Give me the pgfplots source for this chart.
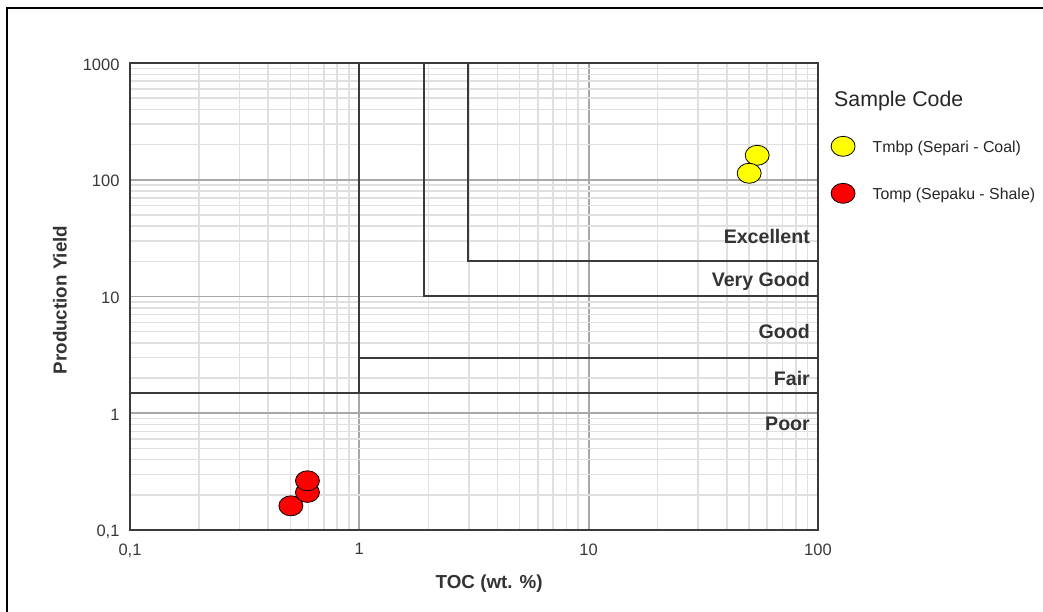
\documentclass[border=0pt]{standalone}
\usepackage{pgfplots}
\pgfplotsset{compat=1.18}
\usepackage{fontspec}
\setmainfont{Liberation Sans}
\definecolor{darkln}{HTML}{3A3A3A}
\definecolor{majgrid}{HTML}{A8A8A8}
\definecolor{mingrid}{HTML}{E0E0E0}
\definecolor{txt}{HTML}{333333}
\definecolor{yel}{HTML}{FFFF00}
\definecolor{rd}{HTML}{FF0000}
\begin{document}
\begin{tikzpicture}[x=1pt,y=1pt]
\useasboundingbox (0,0) rectangle (1043,612);
\fill[white] (0,0) rectangle (1043,612);
\draw[line width=2pt,black] (6.5,0) -- (6.5,604) -- (1043,604);
\begin{axis}[
  at={(130pt,82pt)}, anchor=south west,
  scale only axis, width=688pt, height=467pt,
  xmode=log, ymode=log,
  xmin=0.1, xmax=100, ymin=0.1, ymax=1000,
  xtick={0.1,1,10,100}, xticklabels={{0,1},1,10,100},
  ytick={0.1,1,10,100,1000}, yticklabels={{0,1},1,10,100,1000},
  major tick length=0pt, minor tick length=0pt,
  grid=both,
  major grid style={draw=majgrid, line width=1.8pt},
  minor grid style={draw=mingrid, line width=1.5pt},
  axis line style={draw=darkln, line width=2pt},
  tick label style={font=\fontsize{16.5}{19}\selectfont, text=black!78},
  xticklabel style={yshift=-10pt},
  yticklabel style={xshift=-7pt, yshift=-1.5pt},
  xlabel={TOC (wt. \%)}, ylabel={Production Yield},
  label style={font=\bfseries\fontsize{18.8}{22}\selectfont, text=txt},
  xlabel style={at={(rel axis cs:0.522,-0.1156)}, anchor=center},
  ylabel style={at={(rel axis cs:-0.1017,0.4925)}, anchor=center},
  legend style={at={(rel axis cs:1.019,0.843)}, anchor=north west, draw=none, fill=none,
    inner sep=0pt, outer sep=0pt, row sep=27pt,
    font=\fontsize{15.9}{19}\selectfont, text=black!85,
    nodes={inner sep=0pt, outer sep=0pt},
    /tikz/every odd column/.style={column sep=17.5pt}},
  legend cell align=left,
  legend image code/.code={\draw[#1] plot coordinates {(12pt,1.5pt)};},
  clip=false,
]
% classification boundaries
\addplot[forget plot, draw=darkln, line width=2pt] coordinates {(1,1000) (1,1.5)};
\addplot[forget plot, draw=darkln, line width=2pt] coordinates {(0.1,1.5) (100,1.5)};
\addplot[forget plot, draw=darkln, line width=2pt] coordinates {(1,3) (100,3)};
\addplot[forget plot, draw=darkln, line width=2pt] coordinates {(1.91,1000) (1.91,10) (100,10)};
\addplot[forget plot, draw=darkln, line width=2pt] coordinates {(2.97,1000) (2.97,20) (100,20)};
% data
\addplot[only marks, mark=*, mark size=10pt,
  mark options={xscale=1.2, fill=yel, draw=black, line width=0.8pt}]
  coordinates {(54.3,162) (50.1,113.6)};
\addlegendentry{Tmbp (Separi - Coal)}
\addplot[only marks, mark=*, mark size=10pt,
  mark options={xscale=1.2, fill=rd, draw=black, line width=0.8pt}]
  coordinates {(0.503,0.161) (0.594,0.210) (0.594,0.264)};
\addlegendentry{Tomp (Sepaku - Shale)}
% zone labels
\begin{scope}[every node/.style={anchor=base east, font=\bfseries\fontsize{19.6}{23}\selectfont, text=txt, inner sep=0pt}]
\node at (rel axis cs:0.9884,0.6139) {Excellent};
\node at (rel axis cs:0.9884,0.5210) {Very Good};
\node at (rel axis cs:0.9884,0.4105) {Good};
\node at (rel axis cs:0.9884,0.3090) {Fair};
\node at (rel axis cs:0.9884,0.2120) {Poor};
\end{scope}
\node[anchor=base west, inner sep=0pt, font=\fontsize{21.3}{25}\selectfont, text=black!85] at (rel axis cs:1.0233,0.9079) {Sample Code};
\end{axis}
\end{tikzpicture}
\end{document}
